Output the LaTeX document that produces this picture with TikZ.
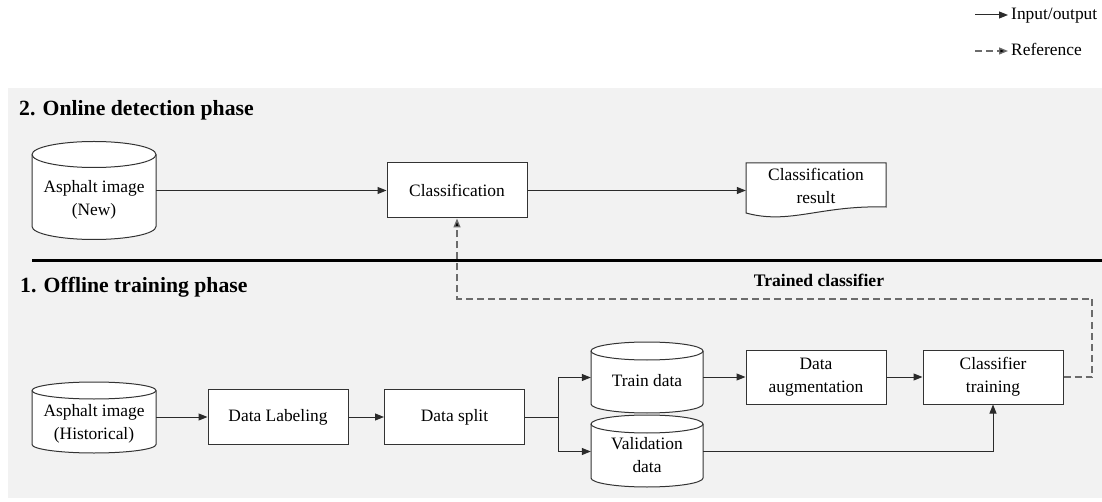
\documentclass[tikz,border=0pt]{standalone}
\usepackage{fontspec}
\setmainfont{Liberation Serif}
\usetikzlibrary{arrows.meta,calc}

\definecolor{panel}{HTML}{F2F2F2}
\definecolor{edge}{HTML}{333333}
\definecolor{wire}{HTML}{2B2B2B}
\definecolor{refgray}{HTML}{6B6B6B}

\tikzset{
  txt/.style={font=\fontsize{17.4}{23}\selectfont, align=center, inner sep=0pt, text=black},
  head/.style={font=\fontsize{21.7}{26}\selectfont\bfseries, inner sep=0pt, anchor=base west},
  boxline/.style={draw=edge, line width=1pt, fill=white},
  stepbox/.style={boxline, txt, minimum width=140pt, minimum height=55pt},
  hold/.style={inner sep=0pt, draw=none},
  io/.style={draw=wire, line width=1pt, -{Triangle[length=9pt,width=7pt]}},
  plain/.style={draw=wire, line width=1pt},
  refline/.style={draw=refgray, line width=1.4pt, dash pattern=on 7pt off 4pt,
    -{Triangle[length=9pt,width=7pt,fill=black]}},
}

% cylinder: centre x, top-ellipse y, bottom-ellipse y, half width, ellipse radius
\newcommand\drum[5]{%
  \filldraw[boxline] (#1-#4,#2) -- (#1-#4,#3)
    arc[start angle=180,end angle=0,x radius=#4,y radius=#5] -- (#1+#4,#2)
    arc[start angle=0,end angle=-180,x radius=#4,y radius=#5] -- cycle;
  \draw[boxline,fill=none] (#1-#4,#2) arc[start angle=180,end angle=0,x radius=#4,y radius=#5];
}

\begin{document}
\begin{tikzpicture}[x=1pt,y=-1pt]
\useasboundingbox (0,0) rectangle (1102,502);

% panel behind both phases
\fill[panel] (8,88) rectangle (1102,498);

% legend
\coordinate (lgA) at (975,15);
\coordinate (lgB) at (975,51);
\node[txt, anchor=base west] (lg1) at (1011,20) {Input/output};
\node[txt, anchor=base west] (lg2) at (1011,56) {Reference};
\draw[io, shorten >=3pt] (lgA) -- (lgA -| lg1.west);
\draw[refline, shorten >=3pt] (lgB) -- (lgB -| lg2.west);

% phase titles and separator
\node[head] (ttlOn) at (19,116) {2. Online detection phase};
\node[head] (ttlOff) at (20,293) {1. Offline training phase};
\draw[black, line width=3.6pt] (32,260.5) -- (1102,260.5);

% ---- online detection phase ----
\drum{94}{154.5}{226.5}{62}{13}
\node[hold, minimum width=124pt, minimum height=98pt] (new) at (94,190.5) {};
\node[txt] at (94,200) {Asphalt image\\(New)};

\node[stepbox] (cls) at (457,190.5) {Classification};

\filldraw[boxline] (746,163) -- (886,163) -- (886,207)
  .. controls (820,205) and (790,225) .. (746,213) -- cycle;
\node[txt, minimum width=140pt] (res) at (816,185.5) {Classification\\result};

\draw[io] (new.east |- cls.west) -- (cls.west);
\draw[io] (cls.east) -- (cls.east -| res.west);

% ---- offline training phase ----
\drum{94}{390.5}{444.5}{62}{8.5}
\node[hold, minimum width=124pt, minimum height=71pt] (hist) at (94,417) {};
\node[txt] at (94,424) {Asphalt image\\(Historical)};

\node[stepbox] (lab) at (278,417) {Data Labeling};
\node[stepbox] (spl) at (454.5,417) {Data split};

\drum{647}{351}{404}{56}{9}
\node[hold, minimum width=112pt, minimum height=71pt] (train) at (647,377.5) {};
\node[txt] at (647,381) {Train data};

\drum{647}{424}{478}{56}{9}
\node[hold, minimum width=112pt, minimum height=72pt] (val) at (647,451.5) {};
\node[txt] at (647,455.5) {Validation\\data};

\node[stepbox, minimum height=54pt] (aug) at (816,377) {Data\\augmentation};
\node[stepbox, minimum height=54pt] (ctr) at (993,377) {Classifier\\training};

\coordinate (fork) at (558,417);
\coordinate (turn) at (1092,299);

\draw[io] (hist.east |- lab.west) -- (lab.west);
\draw[io] (lab) -- (spl);
\draw[plain] (spl.east) -- (fork);
\draw[io] (fork) |- (train.west);
\draw[io] (fork) |- (val.west);
\draw[io] (train.east |- aug.west) -- (aug.west);
\draw[io] (aug) -- (ctr);
\draw[io] (val.east) -| (ctr.south);

% trained model handed back to the online phase
\draw[refline] (ctr.east) -| (turn) -| (cls.south);
\node[txt, font=\fontsize{17.6}{22}\selectfont\bfseries, anchor=base] (model) at (819,287) {Trained classifier};

\end{tikzpicture}
\end{document}
